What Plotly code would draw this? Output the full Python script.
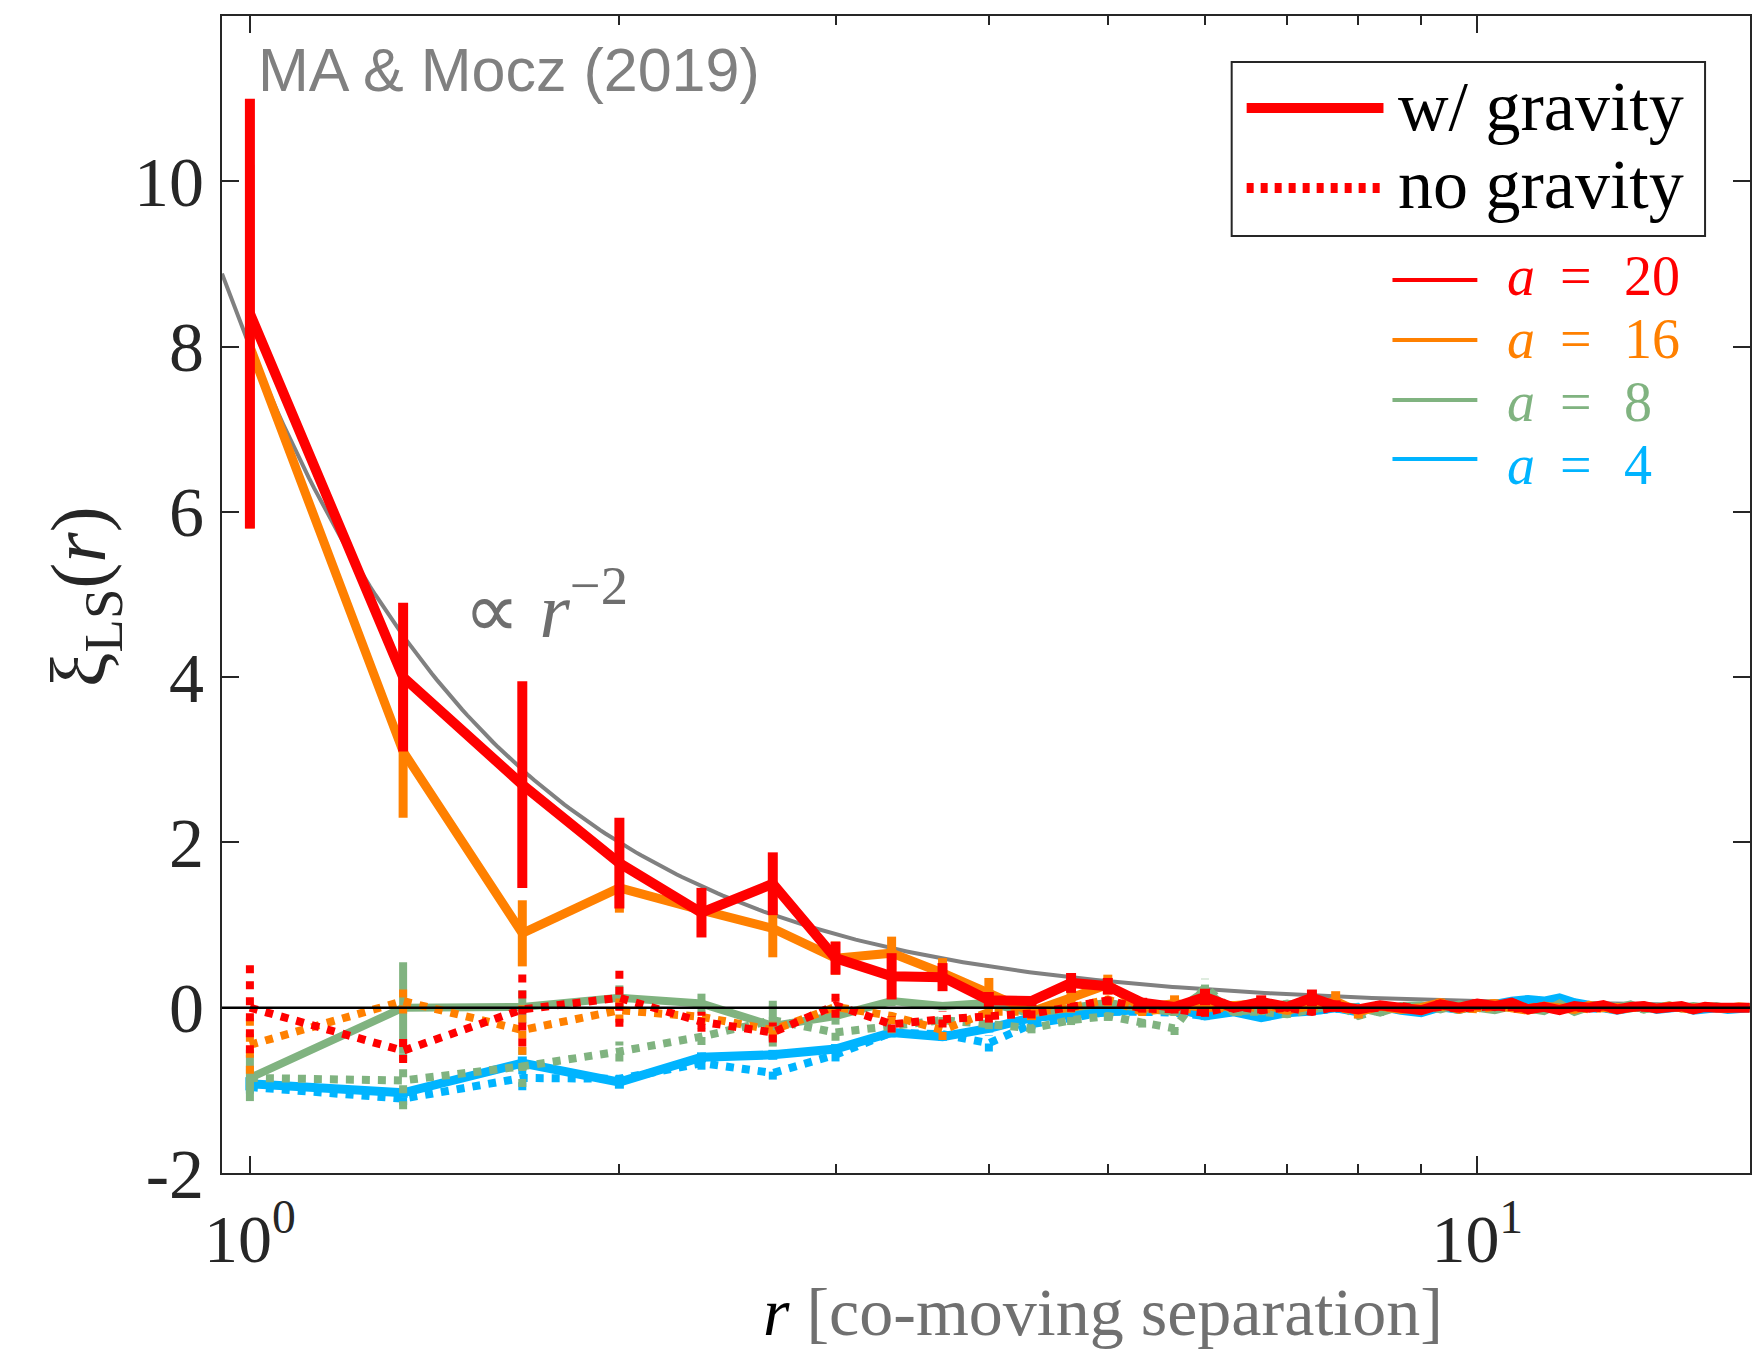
import numpy as np
import plotly.graph_objects as go

# ---------------- data ----------------
r = [1.0, 1.333, 1.667, 2.0, 2.333, 2.667, 3.0, 3.333, 3.667, 4.0, 4.333, 4.667,
     5.0, 5.333, 5.667, 6.0, 6.333, 6.667, 7.0, 7.333, 7.667, 8.0, 8.333, 8.667,
     9.0, 9.333, 9.667, 10.0, 10.333, 10.667, 11.0, 11.333, 11.667, 12.0, 12.333, 12.667,
     13.0, 13.333, 13.667, 14.0, 14.333, 14.667, 15.0, 15.333, 15.667, 16.0, 16.333, 16.667]

# with gravity (solid)
xi_a20 = [8.4, 4.0, 2.7, 1.75, 1.15, 1.5, 0.6, 0.38, 0.37, 0.09, 0.08, 0.3,
          0.26, 0.06, 0.01, 0.13, 0.0, 0.07, 0.01, 0.12, 0.02, -0.02, 0.03, 0.0,
          -0.03, 0.04, 0.0, 0.05, 0.02, 0.06, -0.02, 0.01, -0.03, 0.02, 0.0, 0.03,
          -0.02, 0.01, 0.02, -0.01, 0.0, 0.02, -0.02, 0.01, 0.0, 0.01, -0.01, 0.0]
err_a20 = [2.6, 0.9, 1.25, 0.55, 0.3, 0.38, 0.2, 0.28, 0.17, 0.1, 0.06, 0.12,
           0.1, 0.06, 0.05, 0.1, 0.05, 0.08, 0.05, 0.1, 0.07, 0.04, 0.05, 0.04,
           0.03, 0.05, 0.03, 0.05, 0.03, 0.04, 0.03, 0.03, 0.03, 0.03, 0.02, 0.03,
           0.02, 0.02, 0.02, 0.02, 0.02, 0.02, 0.02, 0.02, 0.02, 0.02, 0.02, 0.02]

xi_a16 = [8.0, 3.1, 0.9, 1.45, 1.18, 0.96, 0.6, 0.66, 0.42, 0.18, -0.05, 0.12,
          0.28, 0.0, 0.05, 0.0, 0.02, 0.05, -0.03, 0.04, 0.08, -0.05, 0.02, -0.02,
          0.0, 0.06, -0.02, 0.03, 0.05, 0.0, -0.03, 0.02, 0.0, -0.02, 0.03, 0.01,
          -0.02, 0.0, 0.02, -0.01, 0.02, 0.0, -0.02, 0.01, 0.0, -0.01, 0.01, 0.0]
err_a16 = [2.2, 0.8, 0.4, 0.3, 0.25, 0.35, 0.2, 0.2, 0.18, 0.18, 0.1, 0.1,
           0.12, 0.08, 0.1, 0.06, 0.06, 0.06, 0.05, 0.06, 0.12, 0.08, 0.05, 0.04,
           0.04, 0.05, 0.04, 0.04, 0.05, 0.04, 0.03, 0.03, 0.03, 0.03, 0.03, 0.03,
           0.02, 0.02, 0.02, 0.02, 0.02, 0.02, 0.02, 0.02, 0.02, 0.02, 0.02, 0.02]

xi_a8 = [-0.85, 0.0, 0.01, 0.12, 0.05, -0.22, -0.1, 0.08, 0.02, 0.06, -0.07, 0.01,
         0.06, -0.01, -0.05, 0.2, -0.05, -0.02, 0.05, -0.02, 0.03, 0.0, -0.06, 0.02,
         0.03, -0.02, 0.04, 0.0, -0.03, 0.02, 0.0, -0.04, 0.05, -0.05, 0.01, 0.03,
         0.0, 0.04, -0.02, 0.01, 0.03, -0.01, 0.02, 0.0, 0.02, -0.01, 0.0, 0.01]
err_a8 = [0.28, 0.55, 0.2, 0.15, 0.12, 0.25, 0.1, 0.06, 0.05, 0.05, 0.05, 0.05,
          0.05, 0.05, 0.05, 0.08, 0.04, 0.04, 0.04, 0.04, 0.04, 0.03, 0.04, 0.03,
          0.03, 0.03, 0.03, 0.03, 0.03, 0.03, 0.02, 0.03, 0.03, 0.03, 0.02, 0.02,
          0.02, 0.02, 0.02, 0.02, 0.02, 0.02, 0.02, 0.02, 0.02, 0.02, 0.02, 0.02]

xi_a4 = [-0.92, -1.03, -0.67, -0.9, -0.6, -0.57, -0.5, -0.3, -0.35, -0.25, -0.12, -0.07,
         -0.05, -0.02, 0.0, -0.1, -0.05, -0.12, -0.06, -0.04, 0.0, -0.05, 0.02, -0.03,
         -0.06, 0.01, -0.02, 0.03, 0.04, 0.08, 0.1, 0.08, 0.12, 0.06, 0.03, -0.01,
         -0.03, 0.0, 0.02, -0.02, 0.0, 0.01, -0.03, -0.01, 0.0, -0.02, -0.01, 0.0]
err_a4 = [0.08, 0.06, 0.08, 0.08, 0.06, 0.06, 0.06, 0.05, 0.05, 0.05, 0.04, 0.04,
          0.04, 0.04, 0.04, 0.05, 0.04, 0.04, 0.03, 0.03, 0.03, 0.03, 0.03, 0.03,
          0.03, 0.03, 0.03, 0.03, 0.03, 0.03, 0.02, 0.02, 0.02, 0.02, 0.02, 0.02,
          0.02, 0.02, 0.02, 0.02, 0.02, 0.02, 0.02, 0.02, 0.02, 0.02, 0.02, 0.02]

# no gravity (dotted)
xi_a20_ng = [0.0, -0.52, -0.02, 0.12, -0.17, -0.3, 0.03, -0.2, -0.14, -0.1, -0.07, 0.01,
             0.09, -0.01, -0.02, -0.06, 0.02, -0.03, 0.0, -0.05, 0.01, -0.02, 0.0, 0.02,
             -0.02, 0.01, -0.01, 0.0, 0.02, -0.01, 0.0, 0.01, -0.02, 0.0, 0.01, -0.01,
             0.0, 0.01, 0.0, -0.01, 0.01, 0.0, -0.01, 0.0, 0.01, 0.0, -0.01, 0.0]
err_a20_ng = [0.55, 0.15, 0.45, 0.35, 0.12, 0.12, 0.15, 0.1, 0.1, 0.08, 0.06, 0.06,
              0.06, 0.05, 0.05, 0.05, 0.04, 0.04, 0.04, 0.04, 0.04, 0.03, 0.03, 0.03,
              0.03, 0.03, 0.03, 0.03, 0.03, 0.03, 0.02, 0.02, 0.02, 0.02, 0.02, 0.02,
              0.02, 0.02, 0.02, 0.02, 0.02, 0.02, 0.02, 0.02, 0.02, 0.02, 0.02, 0.02]

xi_a16_ng = [-0.45, 0.08, -0.27, -0.03, -0.11, -0.27, 0.01, -0.1, -0.27, -0.05, -0.05, 0.0,
             0.1, -0.05, 0.0, -0.04, 0.02, 0.0, -0.03, 0.02, 0.0, -0.03, 0.02, 0.0,
             -0.02, 0.01, 0.0, -0.02, 0.01, 0.0, 0.02, -0.01, 0.0, 0.01, -0.02, 0.0,
             0.01, 0.0, -0.01, 0.0, 0.01, 0.0, -0.01, 0.0, 0.01, 0.0, -0.01, 0.0]
err_a16_ng = [0.35, 0.15, 0.3, 0.15, 0.1, 0.1, 0.1, 0.1, 0.12, 0.06, 0.06, 0.06,
              0.08, 0.05, 0.05, 0.05, 0.04, 0.04, 0.04, 0.04, 0.04, 0.03, 0.03, 0.03,
              0.03, 0.03, 0.03, 0.03, 0.03, 0.03, 0.02, 0.02, 0.02, 0.02, 0.02, 0.02,
              0.02, 0.02, 0.02, 0.02, 0.02, 0.02, 0.02, 0.02, 0.02, 0.02, 0.02, 0.02]

xi_a8_ng = [-0.85, -0.88, -0.71, -0.53, -0.35, -0.15, -0.3, -0.23, -0.15, -0.2, -0.25, -0.15,
            -0.1, -0.18, -0.25, 0.25, -0.05, -0.05, -0.08, -0.02, 0.05, -0.1, -0.02, 0.01,
            -0.04, 0.02, -0.03, 0.0, 0.03, -0.02, 0.01, 0.0, -0.03, 0.02, 0.0, -0.01,
            0.02, 0.0, -0.02, 0.01, 0.0, 0.02, -0.01, 0.0, 0.01, -0.01, 0.0, 0.01]
err_a8_ng = [0.1, 0.35, 0.25, 0.12, 0.1, 0.25, 0.1, 0.08, 0.06, 0.06, 0.06, 0.06,
             0.06, 0.06, 0.08, 0.1, 0.04, 0.04, 0.04, 0.04, 0.04, 0.03, 0.03, 0.03,
             0.03, 0.03, 0.03, 0.03, 0.03, 0.03, 0.02, 0.02, 0.02, 0.02, 0.02, 0.02,
             0.02, 0.02, 0.02, 0.02, 0.02, 0.02, 0.02, 0.02, 0.02, 0.02, 0.02, 0.02]

xi_a4_ng = [-0.96, -1.1, -0.85, -0.86, -0.67, -0.79, -0.57, -0.3, -0.32, -0.43, -0.2, -0.13,
            -0.05, -0.05, -0.06, -0.1, -0.03, -0.05, 0.0, -0.04, -0.02, 0.01, -0.03, 0.0,
            -0.02, 0.02, 0.0, -0.01, 0.03, 0.05, 0.02, 0.0, -0.02, 0.01, 0.0, -0.02,
            0.0, 0.01, -0.01, 0.0, 0.01, 0.0, -0.01, 0.0, 0.0, -0.01, 0.0, 0.0]
err_a4_ng = [0.08, 0.08, 0.15, 0.08, 0.08, 0.08, 0.08, 0.06, 0.06, 0.1, 0.06, 0.05,
             0.05, 0.04, 0.04, 0.04, 0.04, 0.04, 0.03, 0.03, 0.03, 0.03, 0.03, 0.03,
             0.03, 0.03, 0.03, 0.03, 0.03, 0.03, 0.02, 0.02, 0.02, 0.02, 0.02, 0.02,
             0.02, 0.02, 0.02, 0.02, 0.02, 0.02, 0.02, 0.02, 0.02, 0.02, 0.02, 0.02]

power_law_amp = 8.0          # reference curve  xi ∝ r^-2
x_range = [0.949, 16.68]
y_range = [-2, 12]
y_ticks = [-2, 0, 2, 4, 6, 8, 10]
y_ticklabels = ["-2", "0", "2", "4", "6", "8", "10"]
x_ticks = [1, 10]
x_ticklabels = ["10<sup>0</sup>", "10<sup>1</sup>"]
x_minor = [2, 3, 4, 5, 6, 7, 8, 9]
a_labels = ["20", "16", "8", "4"]

# ---------------- styling ----------------
RED, ORANGE, GREEN, BLUE = "#FF0000", "#FF8000", "#80B380", "#00B4FF"
AX = "#262626"
GRAY = "#808080"
SERIF = "Liberation Serif"
SANS = "Liberation Sans"

W_FIG, H_FIG = 1753, 1349
L, R, T, B = 222, 1, 16, 176
PW = W_FIG - L - R
PH = H_FIG - T - B


def px(x):
    return (x - L) / PW


def py(y):
    return (H_FIG - B - y) / PH


fig = go.Figure()

# reference power law
rr = np.geomspace(x_range[0], x_range[1], 300)
fig.add_trace(go.Scatter(x=rr, y=power_law_amp / rr**2, mode="lines",
                         line=dict(color=GRAY, width=4), hoverinfo="skip",
                         showlegend=False))


def add_series(y, e, color, width, dotted):
    dash = "8px,8px" if dotted else "solid"
    ex, ey = [], []
    for xi, yi, ei in zip(r, y, e):
        ex += [xi, xi, None]
        ey += [yi - ei, yi + ei, None]
    fig.add_trace(go.Scatter(x=ex, y=ey, mode="lines",
                             line=dict(color=color, width=width, dash=dash),
                             showlegend=False, hoverinfo="skip"))
    fig.add_trace(go.Scatter(x=r, y=y, mode="lines",
                             line=dict(color=color, width=width, dash=dash),
                             showlegend=False))


add_series(xi_a4_ng, err_a4_ng, BLUE, 8, True)
add_series(xi_a4, err_a4, BLUE, 9, False)
add_series(xi_a8_ng, err_a8_ng, GREEN, 8, True)
add_series(xi_a8, err_a8, GREEN, 8, False)
add_series(xi_a16_ng, err_a16_ng, ORANGE, 8, True)
add_series(xi_a16, err_a16, ORANGE, 9, False)
add_series(xi_a20_ng, err_a20_ng, RED, 8, True)
add_series(xi_a20, err_a20, RED, 10, False)

shapes = []
# zero line
shapes.append(dict(type="line", xref="paper", yref="y", x0=0, x1=1, y0=0, y1=0,
                   line=dict(color="black", width=2.5), layer="above"))
# boxed legend
shapes.append(dict(type="rect", xref="paper", yref="paper",
                   x0=px(1233), x1=px(1707), y0=py(236), y1=py(62),
                   line=dict(color=AX, width=2), fillcolor="white", layer="above"))
shapes.append(dict(type="line", xref="paper", yref="paper",
                   x0=px(1248), x1=px(1385), y0=py(108), y1=py(108),
                   line=dict(color=RED, width=10), layer="above"))
shapes.append(dict(type="line", xref="paper", yref="paper",
                   x0=px(1248), x1=px(1385), y0=py(188), y1=py(188),
                   line=dict(color=RED, width=10, dash="7px,7px"), layer="above"))
# colour legend lines
line_rows = [280, 340, 400, 459]
text_rows = [276, 339, 402, 465]
for c, yy in zip([RED, ORANGE, GREEN, BLUE], line_rows):
    shapes.append(dict(type="line", xref="paper", yref="paper",
                       x0=px(1394), x1=px(1479), y0=py(yy), y1=py(yy),
                       line=dict(color=c, width=4), layer="above"))

ann = []
ann.append(dict(text="w/ gravity", x=px(1398), y=py(107), xref="paper", yref="paper",
                xanchor="left", yanchor="middle", showarrow=False,
                font=dict(family=SERIF, size=70, color="black")))
ann.append(dict(text="no gravity", x=px(1398), y=py(184), xref="paper", yref="paper",
                xanchor="left", yanchor="middle", showarrow=False,
                font=dict(family=SERIF, size=70, color="black")))
for c, yy, lab in zip([RED, ORANGE, GREEN, BLUE], text_rows, a_labels):
    ann.append(dict(text="<i>a</i>", x=px(1507), y=py(yy),
                    xref="paper", yref="paper", xanchor="left", yanchor="middle",
                    showarrow=False, font=dict(family=SERIF, size=56, color=c)))
    ann.append(dict(text="=", x=px(1560), y=py(yy),
                    xref="paper", yref="paper", xanchor="left", yanchor="middle",
                    showarrow=False, font=dict(family=SERIF, size=56, color=c)))
    ann.append(dict(text=lab, x=px(1624), y=py(yy),
                    xref="paper", yref="paper", xanchor="left", yanchor="middle",
                    showarrow=False, font=dict(family=SERIF, size=56, color=c)))
ann.append(dict(text="MA &amp; Mocz (2019)", x=px(256), y=py(70), xref="paper", yref="paper",
                xanchor="left", yanchor="middle", showarrow=False,
                font=dict(family=SANS, size=61, color=GRAY)))
ann.append(dict(text="\u221d <i>r</i><sup>\u22122</sup>", x=px(462), y=py(605),
                xref="paper", yref="paper", xanchor="left", yanchor="middle",
                showarrow=False, font=dict(family=SERIF, size=78, color="#6E6E6E")))
ann.append(dict(text="\u03be<sub>LS</sub>(<i>r</i>)", x=px(84), y=py(597),
                xref="paper", yref="paper", xanchor="center", yanchor="middle",
                textangle=-90, showarrow=False,
                font=dict(family=SERIF, size=78, color=AX)))
ann.append(dict(text="<i>r</i> <span style='color:#707070'>[co-moving separation]</span>",
                x=px(1104), y=py(1312), xref="paper", yref="paper",
                xanchor="center", yanchor="middle", showarrow=False,
                font=dict(family=SERIF, size=68, color="black")))

fig.update_layout(
    width=W_FIG, height=H_FIG,
    margin=dict(l=L, r=R, t=T, b=B, pad=0),
    paper_bgcolor="white", plot_bgcolor="white",
    font=dict(family=SERIF),
    showlegend=False,
    shapes=shapes, annotations=ann,
    xaxis=dict(type="log", range=[np.log10(x_range[0]), np.log10(x_range[1])],
               tickvals=x_ticks, ticktext=x_ticklabels,
               ticks="inside", ticklen=17, tickwidth=2, tickcolor=AX,
               showline=True, linecolor=AX, linewidth=2, mirror="allticks",
               showgrid=False, zeroline=False, ticklabelstandoff=5,
               tickfont=dict(family=SERIF, size=68, color=AX),
               minor=dict(tickvals=x_minor, ticks="inside", ticklen=9, tickwidth=2,
                          tickcolor=AX, showgrid=False)),
    yaxis=dict(range=y_range, tickvals=y_ticks, ticktext=y_ticklabels,
               ticks="inside", ticklen=17, tickwidth=2, tickcolor=AX,
               showline=True, linecolor=AX, linewidth=2, mirror="ticks",
               showgrid=False, zeroline=False, ticklabelstandoff=2,
               tickfont=dict(family=SERIF, size=70, color=AX)),
)

fig.write_html("out.html", config={"displayModeBar": False},
               post_script="document.body.style.margin='0px';")
